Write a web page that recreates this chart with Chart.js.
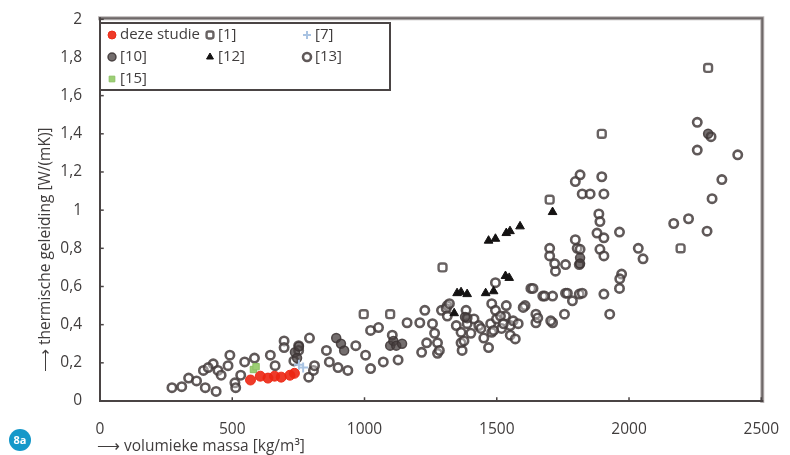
<!DOCTYPE html>
<html>
<head>
<meta charset="utf-8">
<script src="https://cdn.jsdelivr.net/npm/chart.js@4/dist/chart.umd.min.js"></script>
<style>
  html, body { margin: 0; padding: 0; background: #fff; }
  canvas { display: block; }
</style>
</head>
<body>
<canvas id="chart" width="790" height="455"></canvas>
<script>
// ---- data: [volumieke massa kg/m3, thermische geleiding W/(mK)] ----
const dezeStudie = [[569,0.11],[606,0.13],[635,0.12],[660,0.13],[685,0.125],[718,0.135],[735,0.145]];
const ref1  = [[997,0.455],[1097,0.455],[1295,0.70],[1700,1.055],[1897,1.40],[2195,0.80],[2299,1.745]];
const ref7  = [[752,0.19],[768,0.175]];
const ref10 = [[737,0.255],[745,0.225],[752,0.285],[893,0.33],[911,0.30],[923,0.265],[1097,0.29],[1109,0.315],
               [1120,0.29],[1142,0.30],[1380,0.44],[1815,0.75],[1815,0.72],[2299,1.40]];
const ref12 = [[1339,0.46],[1350,0.565],[1365,0.57],[1388,0.56],[1458,0.565],[1488,0.575],[1533,0.655],[1547,0.645],
               [1469,0.84],[1495,0.85],[1536,0.88],[1550,0.89],[1588,0.915],[1711,0.99]];
const ref13 = [
  [272,0.07],[309,0.075],[335,0.12],[365,0.105],[398,0.07],[439,0.05],[391,0.16],[428,0.195],[409,0.175],[446,0.16],
  [458,0.135],[484,0.185],[491,0.24],[510,0.095],[513,0.07],[532,0.135],[547,0.205],[584,0.225],[662,0.185],[644,0.24],
  [696,0.315],[696,0.28],[733,0.21],[751,0.29],[751,0.265],[792,0.33],[789,0.125],[807,0.16],[811,0.185],
  [856,0.265],[867,0.205],[900,0.175],[937,0.16],[967,0.29],[1004,0.24],[1023,0.17],[1023,0.37],[1053,0.385],[1071,0.205],
  [1105,0.345],[1127,0.215],[1161,0.41],[1209,0.41],[1216,0.255],[1235,0.305],[1257,0.405],[1265,0.355],[1276,0.305],
  [1276,0.25],[1291,0.475],[1228,0.475],[1313,0.50],[1309,0.485],[1347,0.395],[1365,0.36],[1365,0.305],[1369,0.265],
  [1388,0.405],[1414,0.43],[1432,0.395],[1402,0.355],[1469,0.28],[1481,0.36],[1477,0.405],[1499,0.43],[1518,0.38],
  [1533,0.445],[1536,0.50],[1551,0.395],[1551,0.345],[1570,0.325],[1562,0.42],[1581,0.405],[1607,0.50],[1648,0.455],
  [1648,0.41],[1711,0.41],[1756,0.455],[1321,0.51],[1313,0.445],[1384,0.475],[1388,0.435],[1440,0.38],[1451,0.33],
  [1481,0.51],[1495,0.475],[1488,0.37],[1514,0.445],[1525,0.405],[1600,0.49],[1629,0.59],[1655,0.435],[1674,0.55],
  [1704,0.42],[1711,0.55],[1700,0.80],[1700,0.76],[1722,0.68],[1760,0.715],[1760,0.565],[1786,0.525],[1812,0.56],
  [1804,0.80],[1812,0.715],[1376,0.315],[1283,0.265],[1495,0.62],
  [1815,1.185],[1797,1.15],[1897,1.175],[1823,1.085],[1853,1.085],[1905,1.085],[1886,0.98],[1890,0.94],[1879,0.88],
  [1905,0.855],[1964,0.885],[1797,0.845],[1815,0.795],[1890,0.795],[1905,0.76],[2035,0.80],[2053,0.745],[1972,0.665],
  [1965,0.64],[1964,0.59],[1637,0.59],[1681,0.55],[1767,0.565],[1823,0.565],[1905,0.56],[1927,0.455],[1719,0.72],
  [2258,1.46],[2310,1.385],[2258,1.315],[2411,1.29],[2351,1.16],[2314,1.06],[2169,0.93],[2225,0.955],[2295,0.89]
];
const ref15 = [[580,0.165],[590,0.18]];

const xTicks = { min: 0, max: 2500, step: 500 };
const yTicks = { min: 0, max: 2, step: 0.2 };

const toXY = arr => arr.map(([x, y]) => ({ x, y }));
const TEXT = '#403d3d';
const FONT = '"Open Sans", sans-serif';

const datasets = [
  { label: 'deze studie', data: toXY(dezeStudie), pointStyle: 'circle', pointRadius: 5,
    backgroundColor: 'rgba(236,38,18,0.9)', borderColor: 'rgba(236,38,18,0.9)', borderWidth: 1, order: 0 },
  { label: '[1]', data: toXY(ref1), pointStyle: 'rectRounded', pointRadius: 4.6,
    backgroundColor: 'rgba(255,255,255,0.6)', borderColor: 'rgba(78,70,70,0.85)', borderWidth: 2.4, order: 3 },
  { label: '[7]', data: toXY(ref7), pointStyle: 'cross', pointRadius: 5,
    backgroundColor: '#a9c3e2', borderColor: '#a9c3e2', borderWidth: 2, order: 1 },
  { label: '[10]', data: toXY(ref10), pointStyle: 'circle', pointRadius: 4.5,
    backgroundColor: 'rgba(70,62,62,0.75)', borderColor: 'rgba(60,52,52,0.85)', borderWidth: 1.5, order: 4 },
  { label: '[12]', data: toXY(ref12), pointStyle: 'triangle', pointRadius: 5,
    backgroundColor: '#141212', borderColor: '#141212', borderWidth: 1, order: 2 },
  { label: '[13]', data: toXY(ref13), pointStyle: 'circle', pointRadius: 4.2,
    backgroundColor: 'rgba(255,255,255,0.35)', borderColor: 'rgba(68,60,60,0.85)', borderWidth: 2.6, order: 5 },
  { label: '[15]', data: toXY(ref15), pointStyle: 'rect', pointRadius: 4.5,
    backgroundColor: '#9ccf74', borderColor: '#8cc064', borderWidth: 1, order: 1 }
];

const fmt = v => Math.abs(v - Math.round(v)) < 1e-6 ? String(Math.round(v)) : v.toFixed(1).replace('.', ',');

// frame, inward tick marks
const framePlugin = {
  id: 'frame',
  beforeDatasetsDraw(chart) {
    const { ctx, chartArea: a, scales } = chart;
    ctx.save();
    ctx.lineCap = 'square';
    // soft outer frame (top / right)
    ctx.strokeStyle = '#b9b4b4';
    ctx.lineWidth = 4;
    ctx.beginPath();
    ctx.moveTo(a.left, a.top - 1); ctx.lineTo(a.right + 1, a.top - 1); ctx.lineTo(a.right + 1, a.bottom);
    ctx.stroke();
    ctx.strokeStyle = '#6e6868';
    ctx.lineWidth = 2;
    ctx.stroke();
    // axes
    ctx.strokeStyle = '#4a4444';
    ctx.lineWidth = 2;
    ctx.beginPath();
    ctx.moveTo(a.left, a.top - 1); ctx.lineTo(a.left, a.bottom); ctx.lineTo(a.right + 1, a.bottom);
    ctx.stroke();
    // ticks
    ctx.lineWidth = 1.5;
    scales.y.ticks.forEach(t => {
      const y = scales.y.getPixelForValue(t.value);
      ctx.beginPath(); ctx.moveTo(a.left, y); ctx.lineTo(a.left + 3, y); ctx.stroke();
    });
    scales.x.ticks.forEach(t => {
      const x = scales.x.getPixelForValue(t.value);
      ctx.beginPath(); ctx.moveTo(x, a.bottom); ctx.lineTo(x, a.bottom - 3); ctx.stroke();
    });
    ctx.restore();
  }
};

// legend box, axis titles, figure badge
const decorPlugin = {
  id: 'decor',
  afterDraw(chart) {
    const { ctx } = chart;
    ctx.save();
    // legend
    ctx.fillStyle = '#fff';
    ctx.fillRect(100, 23, 290, 67);
    ctx.strokeStyle = '#4a4444';
    ctx.lineWidth = 2;
    ctx.strokeRect(100, 23, 290, 67);
    const cols = [112, 210, 307];
    const rows = [35, 57, 79];
    ctx.font = '15px ' + FONT;
    ctx.textBaseline = 'middle';
    ctx.textAlign = 'left';
    chart.data.datasets.forEach((ds, i) => {
      const cx = cols[i % 3], cy = rows[Math.floor(i / 3)];
      ctx.fillStyle = ds.backgroundColor;
      ctx.strokeStyle = ds.borderColor;
      ctx.lineWidth = ds.borderWidth;
      Chart.helpers.drawPoint(ctx, { pointStyle: ds.pointStyle, radius: 4, rotation: 0, borderWidth: ds.borderWidth }, cx, cy);
      ctx.fillStyle = TEXT;
      ctx.fillText(ds.label, cx + 8, cy);
    });
    // axis titles
    ctx.fillStyle = TEXT;
    ctx.font = '15.5px ' + FONT;
    ctx.textBaseline = 'middle';
    ctx.fillText('\u27F6 volumieke massa [kg/m\u00B3]', 97, 447);
    ctx.translate(46, 372);
    ctx.rotate(-Math.PI / 2);
    ctx.fillText('\u27F6 thermische geleiding [W/(mK)]', 0, 0);
    ctx.restore();
    // badge
    ctx.save();
    ctx.fillStyle = '#1598c9';
    ctx.beginPath(); ctx.arc(20, 440, 11, 0, Math.PI * 2); ctx.fill();
    ctx.fillStyle = '#fff';
    ctx.font = 'bold 11px ' + FONT;
    ctx.textAlign = 'center';
    ctx.textBaseline = 'middle';
    ctx.fillText('8a', 20, 441);
    ctx.restore();
  }
};

new Chart(document.getElementById('chart'), {
  type: 'scatter',
  data: { datasets },
  options: {
    responsive: false,
    animation: false,
    devicePixelRatio: 1,
    layout: { padding: { top: 16, right: 18, left: 0, bottom: 0 } },
    plugins: { legend: { display: false }, tooltip: { enabled: false } },
    scales: {
      x: {
        type: 'linear', min: xTicks.min, max: xTicks.max,
        ticks: { stepSize: xTicks.step, color: TEXT, font: { family: FONT, size: 15.5 }, padding: 11, maxRotation: 0,
                 callback: v => String(v) },
        grid: { display: false }, border: { display: false },
        afterFit: s => { s.height = 54; }
      },
      y: {
        type: 'linear', min: yTicks.min, max: yTicks.max,
        ticks: { stepSize: yTicks.step, color: TEXT, font: { family: FONT, size: 15.5 }, padding: 10, callback: fmt },
        grid: { display: false }, border: { display: false },
        afterFit: s => { s.width = 100; }
      }
    }
  },
  plugins: [framePlugin, decorPlugin]
});
</script>
</body>
</html>
